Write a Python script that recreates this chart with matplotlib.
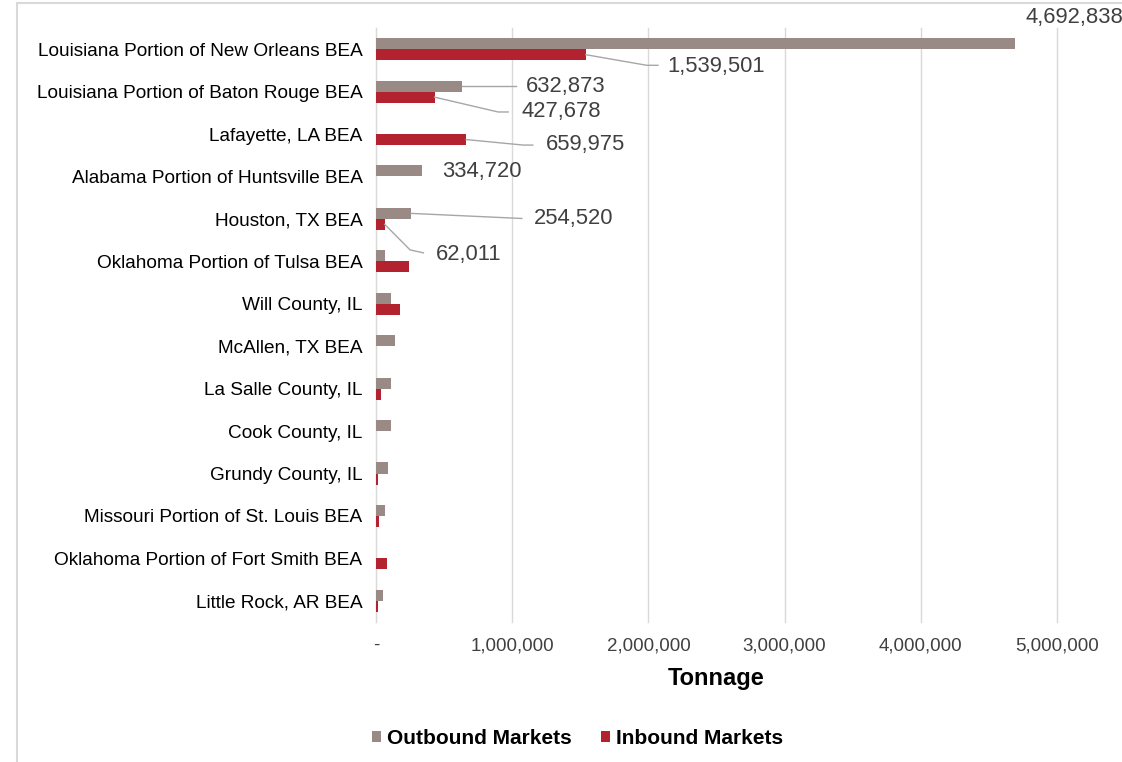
import matplotlib.pyplot as plt
from matplotlib.patches import Rectangle
from matplotlib.ticker import FuncFormatter
import numpy as np

plt.rcParams['font.family'] = ['Liberation Sans', 'DejaVu Sans']

# Data
markets = ['Louisiana Portion of New Orleans BEA', 'Louisiana Portion of Baton Rouge BEA',
           'Lafayette, LA BEA', 'Alabama Portion of Huntsville BEA', 'Houston, TX BEA',
           'Oklahoma Portion of Tulsa BEA', 'Will County, IL', 'McAllen, TX BEA',
           'La Salle County, IL', 'Cook County, IL', 'Grundy County, IL',
           'Missouri Portion of St. Louis BEA', 'Oklahoma Portion of Fort Smith BEA',
           'Little Rock, AR BEA']
outbound = [4692838, 632873, 0, 334720, 254520, 61000, 107000, 139000,
            110000, 110000, 83000, 61000, 0, 51000]
inbound = [1539501, 427678, 659975, 0, 62011, 238000, 173000, 0,
           31000, 0, 12000, 18000, 78000, 15000]
x_ticks = [0, 1000000, 2000000, 3000000, 4000000, 5000000]

gray = '#9a8a86'
red = '#b3232f'
text_col = '#404040'
lead_col = '#a6a6a6'

fig = plt.figure(figsize=(11.22, 7.62), dpi=100)
ax = fig.add_axes([0.3354, 0.1837, 0.6064, 0.7796])

y = np.arange(len(markets))
h = 0.26
ax.barh(y - h / 2, outbound, height=h, color=gray, label='Outbound Markets', zorder=3)
ax.barh(y + h / 2, inbound, height=h, color=red, label='Inbound Markets', zorder=3)

ax.set_ylim(len(markets) - 0.5, -0.5)
ax.set_xlim(0, 5000000)
ax.set_yticks(y)
ax.set_yticklabels(markets, fontsize=13.7, color='black')
ax.set_xticks(x_ticks)
ax.xaxis.set_major_formatter(FuncFormatter(lambda v, p: '-' if v == 0 else f'{v:,.0f}'))
ax.tick_params(axis='x', length=0, pad=11, labelsize=13.5, labelcolor=text_col)
ax.tick_params(axis='y', length=0, pad=10)
ax.grid(axis='x', color='#d9d9d9', linewidth=1, zorder=0)
for gl in ax.get_xgridlines():
    gl.set_clip_on(False)
for s in ['top', 'right', 'bottom']:
    ax.spines[s].set_visible(False)
ax.spines['left'].set_color('#d9d9d9')
ax.set_xlabel('Tonnage', fontsize=17, fontweight='bold', labelpad=9)

# data label with an optional leader line from the bar end
def label(val, ybar, tx, ty, path=None):
    if path:
        xs = [val] + [p[0] for p in path]
        ys = [ybar] + [p[1] for p in path]
        ax.plot(xs, ys, color=lead_col, linewidth=1, zorder=4, clip_on=False)
    ax.text(tx, ty, f'{val:,}', fontsize=15.8, color=text_col, ha='left', va='center',
            clip_on=False)

label(outbound[0], 0 - h / 2, 4.77e6, -0.74)
label(inbound[0], 0 + h / 2, 2.137e6, 0.40, [(1.988e6, 0.38), (2.07e6, 0.38)])
label(outbound[1], 1 - h / 2, 1.10e6, 0.87, [(1.03e6, 0.87)])
label(inbound[1], 1 + h / 2, 1.064e6, 1.48, [(0.895e6, 1.48), (0.969e6, 1.48)])
label(inbound[2], 2 + h / 2, 1.248e6, 2.24, [(1.08e6, 2.26), (1.15e6, 2.26)])
label(outbound[3], 3 - h / 2, 0.48e6, 2.88)
label(outbound[4], 4 - h / 2, 1.16e6, 3.98, [(1.069e6, 3.99)])
label(inbound[4], 4 + h / 2, 0.44e6, 4.83, [(0.248e6, 4.73), (0.346e6, 4.80)])

fig.legend(loc='center', bbox_to_anchor=(0.515, 0.031), ncol=2, frameon=False,
           prop={'size': 15, 'weight': 'bold'}, handlelength=0.42, handleheight=0.42,
           handletextpad=0.3, columnspacing=1.4)

fig.patches.append(Rectangle((17 / 1122, -0.05), 1.2, 1.05 - 3 / 762,
                             transform=fig.transFigure, fill=False,
                             edgecolor='#d9d9d9', linewidth=1.5))

fig.savefig('out.png', dpi=100)
